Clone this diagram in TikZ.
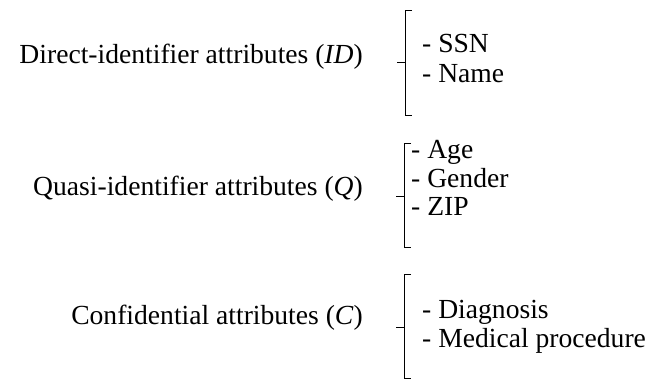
\documentclass[tikz,border=0pt]{standalone}
\usepackage{fontspec}
\setmainfont{Liberation Serif}
\begin{document}
\begin{tikzpicture}[x=1pt,y=-1pt,
  lbl/.style={inner sep=0pt,anchor=base east,font=\fontsize{27.6}{32}\selectfont},
  item/.style={inner sep=0pt,anchor=base west,font=\fontsize{27.6}{32}\selectfont},
  brk/.style={line width=0.9pt}]
\useasboundingbox (0,0) rectangle (652,381);
% labels
\node[lbl] (id) at (363,63) {Direct-identifier attributes (\textit{ID})};
\node[lbl] (q) at (363,195) {Quasi-identifier attributes (\textit{Q})};
\node[lbl] (c) at (363,324) {Confidential attributes (\textit{C})};
% items
\node[item] (ssn) at (422,52) {- SSN};
\node[item] (name) at (422,82) {- Name};
\node[item] (age) at (411,158) {- Age};
\node[item] (gender) at (411,187) {- Gender};
\node[item] (zip) at (411,215) {- ZIP};
\node[item] (diag) at (422,318) {- Diagnosis};
\node[item] (med) at (422,347) {- Medical procedure};
% brackets
\draw[brk] (412,10) -- (405,10) -- (405,115) -- (412,115);
\draw[brk] (405,62) -- (397,62);
\draw[brk] (411,143) -- (404,143) -- (404,247) -- (411,247);
\draw[brk] (404,196) -- (396,196);
\draw[brk] (411,274) -- (404,274) -- (404,378) -- (411,378);
\draw[brk] (404,327) -- (396,327);
\end{tikzpicture}
\end{document}
